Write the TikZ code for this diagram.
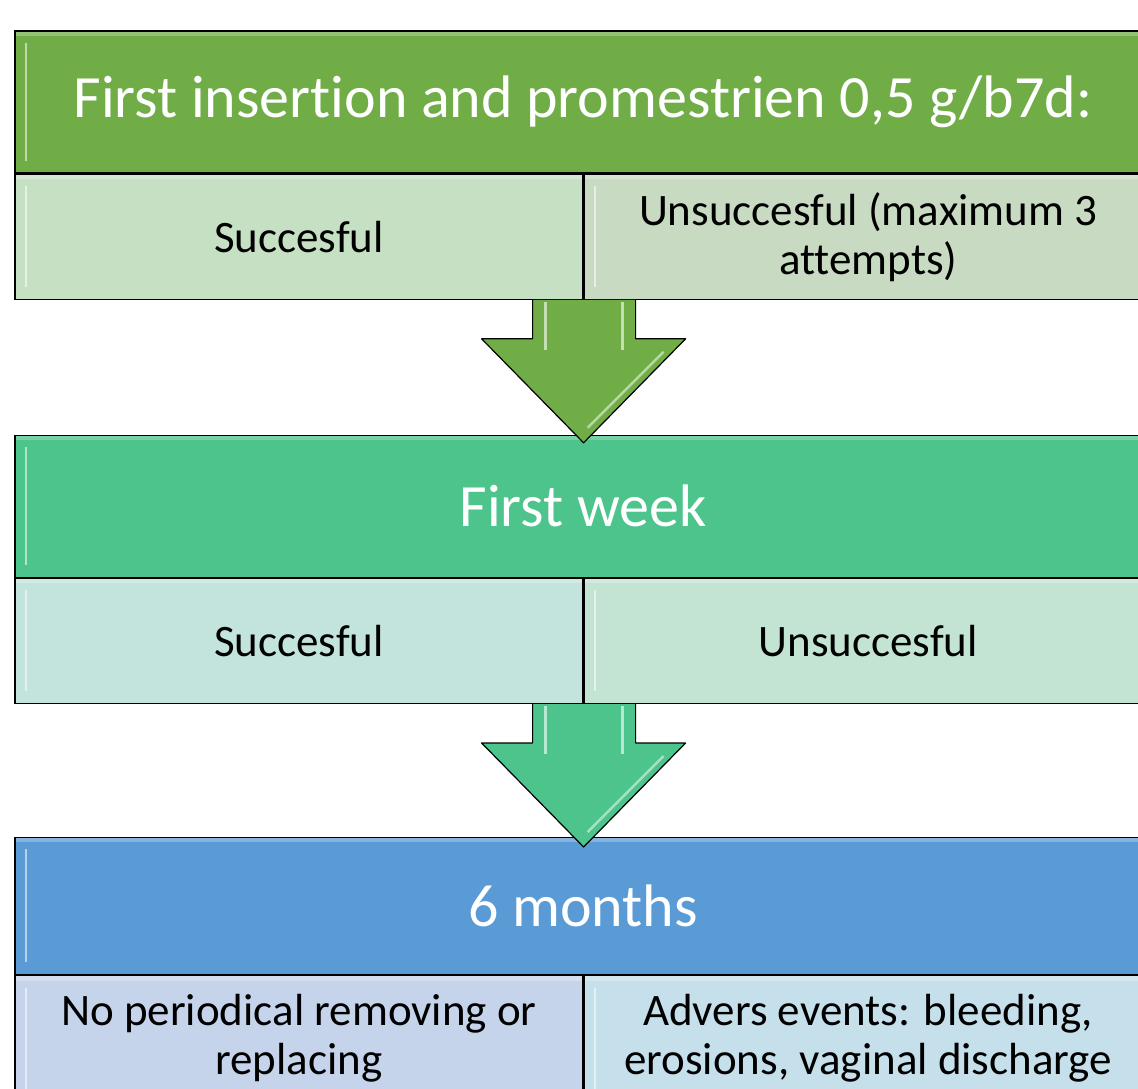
\documentclass[tikz,border=0pt]{standalone}
\usepackage{fontspec}
\setmainfont[Ligatures=NoCommon]{Carlito}
\usetikzlibrary{positioning,calc}

\definecolor{grhead}{HTML}{70AD47}
\definecolor{grleft}{HTML}{C5E0C3}
\definecolor{grright}{HTML}{C9DAC2}
\definecolor{tqhead}{HTML}{4CC48C}
\definecolor{tqleft}{HTML}{C3E3DD}
\definecolor{tqright}{HTML}{C3E4D3}
\definecolor{blhead}{HTML}{5B9BD5}
\definecolor{blleft}{HTML}{C5D4EB}
\definecolor{blright}{HTML}{C5DFEB}

\begin{document}
\begin{tikzpicture}[
x=1pt, y=-1pt,
gloss/.style={path picture={
  \draw[white, opacity=0.55, line width=2.5pt]
    ($(path picture bounding box.north west)+(11pt,-12pt)$) --
    ($(path picture bounding box.south west)+(11pt,12pt)$);
  \fill[white, opacity=0.25]
    (path picture bounding box.north west) rectangle
    ($(path picture bounding box.north east)+(0,-5pt)$);}},
header/.style={draw=black, line width=1.2pt, gloss, minimum width=1136pt,
  minimum height=142pt, inner sep=0pt, text=white,
  font=\fontsize{60}{66}\selectfont},
cell/.style={draw=black, line width=1.2pt, gloss, minimum width=568pt,
  minimum height=125pt, inner sep=0pt, align=center,
  font=\fontsize{45}{49}\selectfont},
bigarrow/.style={draw=black, line width=1.2pt, line join=round}
]
\useasboundingbox (0,0) rectangle (1138,1089);
\clip (0,0) rectangle (1138,1089);

% -------- Step 1 --------
\node[header, fill=grhead] (hdr1) at (583,102) {First insertion and promestrien 0,5 g/b7d:};
\node[cell, fill=grleft, anchor=north west] (ok1) at (hdr1.south west) {Succesful};
\node[cell, fill=grright, anchor=north west] (fail1) at (ok1.north east) {Unsuccesful (maximum 3\\attempts)};

% -------- Step 2 --------
\node[header, fill=tqhead, below=261pt of hdr1] (hdr2) {First week};
\node[cell, fill=tqleft, anchor=north west] (ok2) at (hdr2.south west) {Succesful};
\node[cell, fill=tqright, anchor=north west] (fail2) at (ok2.north east) {Unsuccesful};

% -------- Step 3 --------
\node[header, fill=blhead, minimum height=137pt, below=259pt of hdr2] (hdr3) {6 months};
\node[cell, fill=blleft, anchor=north west] (ok3) at (hdr3.south west) {No periodical removing or\\replacing};
\node[cell, fill=blright, anchor=north west] (fail3) at (ok3.north east) {Advers events: bleeding,\\erosions, vaginal discharge};

% -------- Arrows --------
\coordinate (top1) at (ok1.south east);
\coordinate (top2) at (ok2.south east);
\draw[bigarrow, fill=grhead] ($(top1)+(-51,0)$) -- ($(top1)+(-51,39)$) -- ($(top1)+(-102,39)$)
  -- ($(top1)+(0,143)$) -- ($(top1)+(102,39)$) -- ($(top1)+(52,39)$) -- ($(top1)+(52,0)$);
\draw[bigarrow, fill=tqhead] ($(top2)+(-51,0)$) -- ($(top2)+(-51,39)$) -- ($(top2)+(-102,39)$)
  -- ($(top2)+(0,143)$) -- ($(top2)+(102,39)$) -- ($(top2)+(52,39)$) -- ($(top2)+(52,0)$);
\foreach \t in {top1,top2} {
  \draw[white, opacity=0.6, line width=2.5pt] ($(\t)+(-38,2)$) -- ($(\t)+(-38,50)$);
  \draw[white, opacity=0.6, line width=2.5pt] ($(\t)+(39,2)$) -- ($(\t)+(39,50)$);
  \draw[white, opacity=0.5, line width=2.5pt] ($(\t)+(4,128)$) -- ($(\t)+(80,52)$);
}

\end{tikzpicture}
\end{document}
